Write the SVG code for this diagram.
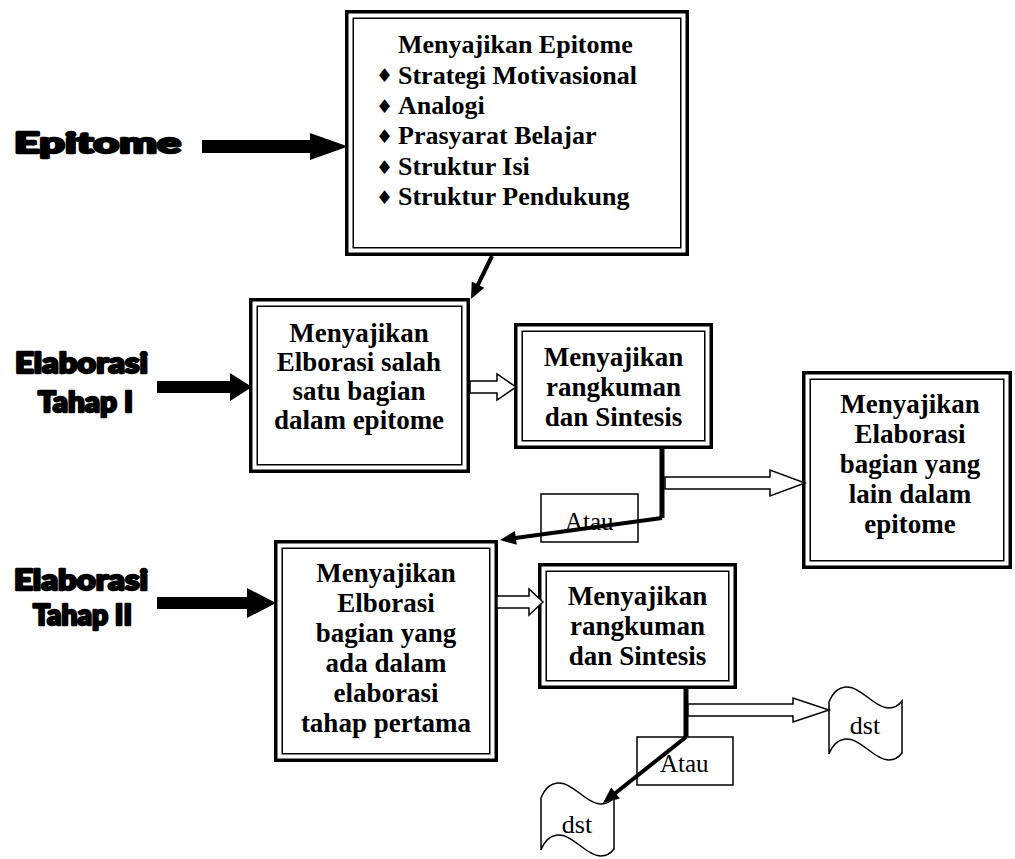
<svg xmlns="http://www.w3.org/2000/svg" width="1015" height="859" viewBox="0 0 1015 859">
<style>
.bg{fill:#fff}
.outer{fill:#fff;stroke:#000;stroke-width:3.5}
.inner{fill:none;stroke:#000;stroke-width:1.5}
.t{font-family:"Liberation Serif","Times New Roman",serif;font-weight:bold;font-size:27px;fill:#000;text-anchor:middle}
.te{font-family:"Liberation Serif","Times New Roman",serif;font-weight:bold;font-size:26px;fill:#000}
.bul{font-family:"DejaVu Sans","Liberation Serif",serif;font-size:19px;fill:#000}
.lab{font-family:"Lato","Roboto","DejaVu Sans",sans-serif;font-weight:900;font-size:28px;fill:#000;stroke:#000;stroke-width:2.4;stroke-linejoin:round}
.reg{font-family:"Liberation Serif","Times New Roman",serif;font-size:25px;fill:#000}
.thin{fill:#fff;stroke:#000;stroke-width:1.5}
.blk{fill:#000;stroke:none}
.open{fill:#fff;stroke:#000;stroke-width:1.5;stroke-linejoin:miter}
.bar{stroke:#000;stroke-width:5;fill:none}
.ln{stroke:#000;stroke-width:4;fill:none;marker-end:url(#ah)}
</style>
<defs>
<marker id="ah" markerUnits="userSpaceOnUse" markerWidth="18" markerHeight="16" refX="6" refY="7" orient="auto" overflow="visible">
<path d="M0,0 L16,7 L0,14 Z" fill="#000"/>
</marker>
<path id="tape" d="M0,15 C4,5 10,0 18,0 C32,0 46,21 60,21 C66,21 70,18 73,14 L73,66 C70,70 66,73 60,73 C46,73 32,52 18,52 C10,52 4,57 0,67 Z"/>
</defs>
<rect class="bg" x="0" y="0" width="1015" height="859"/>

<g id="label-epitome">
<text class="lab" x="14" y="153" textLength="167" lengthAdjust="spacingAndGlyphs">Epitome</text>
</g>
<g id="label-tahap1">
<text class="lab" x="15" y="373" textLength="133" lengthAdjust="spacingAndGlyphs">Elaborasi</text>
<text class="lab" x="38" y="412" textLength="95" lengthAdjust="spacingAndGlyphs">Tahap I</text>
</g>
<g id="label-tahap2">
<text class="lab" x="14" y="590" textLength="134" lengthAdjust="spacingAndGlyphs">Elaborasi</text>
<text class="lab" x="33" y="625" textLength="99" lengthAdjust="spacingAndGlyphs">Tahap II</text>
</g>

<g id="node-epitome">
<rect class="outer" x="346.75" y="11.75" width="340.5" height="242.5"/>
<rect class="inner" x="353.25" y="18.25" width="327.5" height="229.5"/>
<text class="te" x="398" y="53">Menyajikan Epitome</text>
<text class="bul" x="376" y="82">♦</text><text class="te" x="398" y="83.5">Strategi Motivasional</text>
<text class="bul" x="376" y="112.5">♦</text><text class="te" x="398" y="114">Analogi</text>
<text class="bul" x="376" y="142.5">♦</text><text class="te" x="398" y="144">Prasyarat Belajar</text>
<text class="bul" x="376" y="173.5">♦</text><text class="te" x="398" y="175">Struktur Isi</text>
<text class="bul" x="376" y="203.5">♦</text><text class="te" x="398" y="205">Struktur Pendukung</text>
</g>

<g id="node-elab1">
<rect class="outer" x="250.75" y="299.75" width="217.5" height="171.5"/>
<rect class="inner" x="257.25" y="306.25" width="204.5" height="158.5"/>
<text class="t" x="359" y="342">Menyajikan</text>
<text class="t" x="359" y="371">Elborasi salah</text>
<text class="t" x="359" y="400">satu bagian</text>
<text class="t" x="359" y="429">dalam epitome</text>
</g>

<g id="node-rangkuman1">
<rect class="outer" x="515.75" y="324.75" width="195.5" height="122.5"/>
<rect class="inner" x="522.25" y="331.25" width="182.5" height="109.5"/>
<text class="t" x="613.5" y="366">Menyajikan</text>
<text class="t" x="613.5" y="396">rangkuman</text>
<text class="t" x="613.5" y="426">dan Sintesis</text>
</g>

<g id="node-elab-lain">
<rect class="outer" x="803.75" y="372.75" width="206.5" height="194.5"/>
<rect class="inner" x="810.25" y="379.25" width="193.5" height="181.5"/>
<text class="t" x="910" y="413">Menyajikan</text>
<text class="t" x="910" y="443">Elaborasi</text>
<text class="t" x="910" y="473">bagian yang</text>
<text class="t" x="910" y="503">lain dalam</text>
<text class="t" x="910" y="533">epitome</text>
</g>

<g id="node-atau1">
<rect class="thin" x="541" y="494" width="97" height="48"/>
<text class="reg" x="565" y="530">Atau</text>
</g>

<g id="node-elab2">
<rect class="outer" x="275.75" y="541.75" width="220.5" height="218.5"/>
<rect class="inner" x="282.25" y="548.25" width="207.5" height="205.5"/>
<text class="t" x="386" y="582">Menyajikan</text>
<text class="t" x="386" y="612">Elborasi</text>
<text class="t" x="386" y="642">bagian yang</text>
<text class="t" x="386" y="672">ada dalam</text>
<text class="t" x="386" y="702">elaborasi</text>
<text class="t" x="386" y="732">tahap pertama</text>
</g>

<g id="node-rangkuman2">
<rect class="outer" x="539.75" y="564.75" width="195.5" height="122.5"/>
<rect class="inner" x="546.25" y="571.25" width="182.5" height="109.5"/>
<text class="t" x="637.5" y="605">Menyajikan</text>
<text class="t" x="637.5" y="635">rangkuman</text>
<text class="t" x="637.5" y="665">dan Sintesis</text>
</g>

<g id="node-atau2">
<rect class="thin" x="637" y="737" width="96" height="48"/>
<text class="reg" x="660" y="772">Atau</text>
</g>

<g id="node-dst-right">
<use href="#tape" x="829" y="687" class="thin"/>
<text class="reg" x="865" y="734" text-anchor="middle" style="font-size:26px">dst</text>
</g>

<g id="node-dst-left">
<use href="#tape" x="541" y="783" class="thin"/>
<text class="reg" x="577" y="833" text-anchor="middle" style="font-size:26px">dst</text>
</g>

<g id="connectors">
<polygon class="blk" points="202,140 310,140 310,133 348,146.5 310,160 310,153 202,153"/>
<polygon class="blk" points="157,381 230,381 230,373 252,387 230,401 230,393 157,393"/>
<polygon class="blk" points="157,597 247,597 247,588 276,603 247,618 247,609 157,609"/>
<line class="ln" x1="492" y1="256" x2="475.4" y2="290"/>
<polygon class="open" points="470,381 497,381 497,374 516,387 497,400 497,393 470,393"/>
<path class="bar" d="M662,449 L662,518"/>
<line class="ln" x1="662" y1="518" x2="509.9" y2="538.7"/>
<polygon class="open" points="665,477 770,477 770,470 805,483 770,496 770,489 665,489"/>
<polygon class="open" points="497,596 529,596 529,589 543,602 529,615 529,608 497,608"/>
<path class="bar" d="M686,689 L686,737"/>
<line class="ln" x1="686" y1="737" x2="610.8" y2="796.8"/>
<polygon class="open" points="688,704 793,704 793,698 829,710 793,722 793,716 688,716"/>
</g>
</svg>
